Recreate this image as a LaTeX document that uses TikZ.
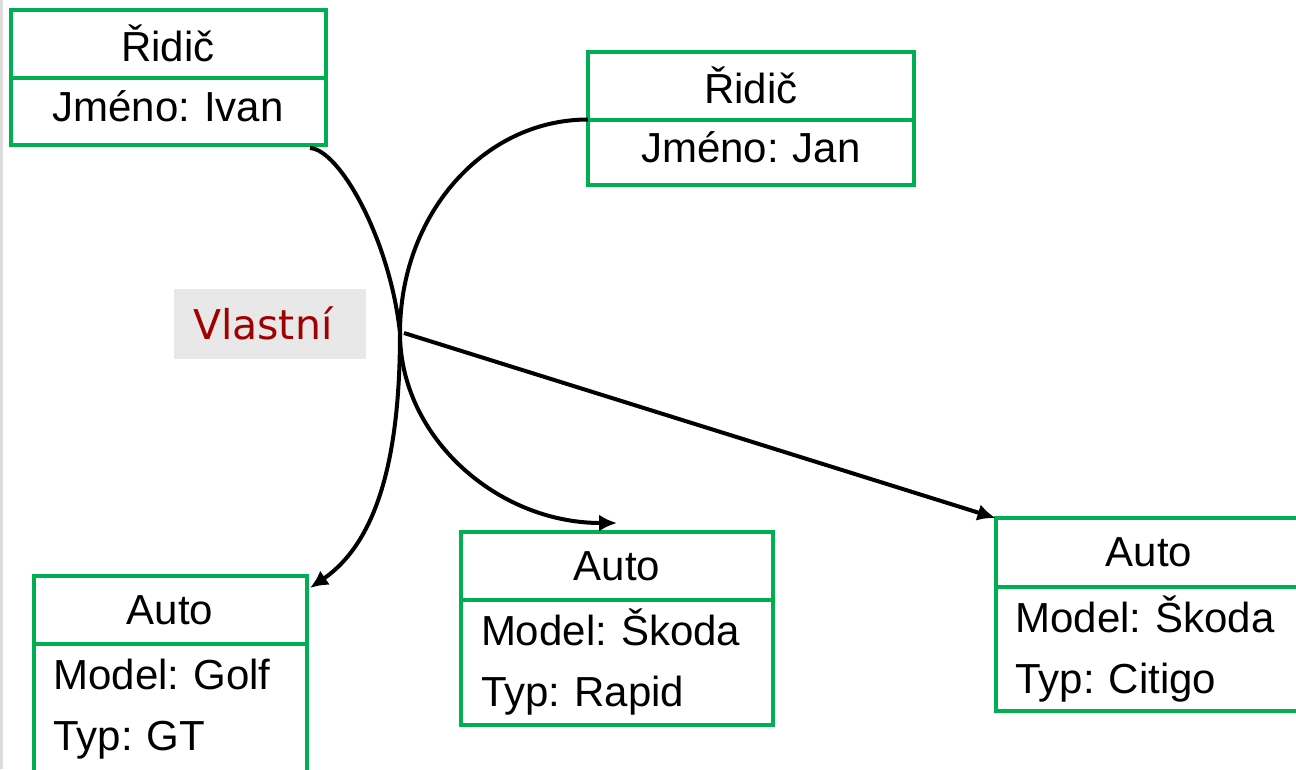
\documentclass[tikz,border=0pt]{standalone}
\usepackage{fontspec}
\setmainfont{Liberation Sans}
\newfontfamily\relfont{DejaVu Sans}
\usetikzlibrary{arrows.meta}
\usetikzlibrary{positioning}
\frenchspacing
\definecolor{boxgreen}{HTML}{00B050}
\definecolor{relred}{HTML}{A00000}
\definecolor{relgray}{HTML}{E8E8E8}
\definecolor{edgegray}{HTML}{DCDCDC}
\tikzstyle{classhead} = [
    rectangle,
    draw=boxgreen,
    line width=4pt,
    inner sep=0pt,
    outer sep=0pt,
    minimum height=68pt,
    font=\fontsize{42}{50}\selectfont,
    text centered
]
\tikzstyle{classattr} = [
    rectangle,
    draw=boxgreen,
    line width=4pt,
    inner xsep=20pt,
    inner ysep=0pt,
    outer sep=0pt,
    font=\fontsize{42}{61}\selectfont,
    align=left
]
\tikzstyle{assoc} = [
    draw,
    -{Latex[length=18pt,width=17pt]},
    line width=4pt
]
\tikzstyle{relname} = [
    rectangle,
    fill=relgray,
    inner xsep=19pt,
    inner ysep=0pt,
    text width=154pt,
    minimum height=70pt,
    align=left,
    text=relred,
    font=\relfont\fontsize{41}{48}\selectfont
]

\begin{document}
\begin{tikzpicture}[x=1pt, y=-1pt]

\useasboundingbox (0,0) rectangle (1296,769);
\clip (0,0) rectangle (1296,769);

\draw[edgegray, line width=2.5pt] (1.5,0) -- (1.5,769);

\node[classhead, minimum width=315pt, anchor=north west] (ivanH)   at (10.5,9.5)   {Řidič};
\node[classattr, text width=275pt, minimum height=67.5pt, text depth=10pt, align=center, below=0pt of ivanH] (ivanB) {Jméno: Ivan};

\node[classhead, minimum width=326pt, minimum height=67.5pt, anchor=north west] (janH) at (588,52) {Řidič};
\node[classattr, text width=286pt, minimum height=65pt, text depth=10pt, align=center, below=0pt of janH] (janB) {Jméno: Jan};

\node[classhead, minimum width=273pt, minimum height=68.5pt, anchor=north west] (golfH) at (33.5,575.5) {Auto};
\node[classattr, text width=233pt, minimum height=131pt, below=0pt of golfH] (golfB)
{Model: Golf\\Typ: GT};

\node[classhead, minimum width=312pt, minimum height=67.5pt, anchor=north west] (rapidH) at (461,532) {Auto};
\node[classattr, text width=272pt, minimum height=125.5pt, below=0pt of rapidH] (rapidB)
{Model: Škoda\\Typ: Rapid};

\node[classhead, minimum width=307pt, minimum height=68.5pt, anchor=north west] (citigoH) at (995.5,518) {Auto};
\node[classattr, text width=267pt, minimum height=124.5pt, below=0pt of citigoH] (citigoB)
{Model: Škoda\\Typ: Citigo};

\node[relname] (vlastni) at (270,323.5) {Vlastní};

\coordinate (own) at (400,333);

\draw[assoc] ([xshift=-15.5pt,yshift=-3pt]ivanB.south east)
    .. controls (340,150) and (390,240) .. (own)
    .. controls (400,450) and (380,540) .. ([xshift=3.5pt,yshift=-12.5pt]golfH.north east);
\draw[assoc] (janH.south west)
    .. controls (484,119.5) and (400,214) .. (own)
    .. controls (400,437) and (497,523) .. ([yshift=9pt]rapidH.north);
\draw[assoc] ([xshift=4pt]own) to (citigoH.north west);

\end{tikzpicture}
\end{document}
